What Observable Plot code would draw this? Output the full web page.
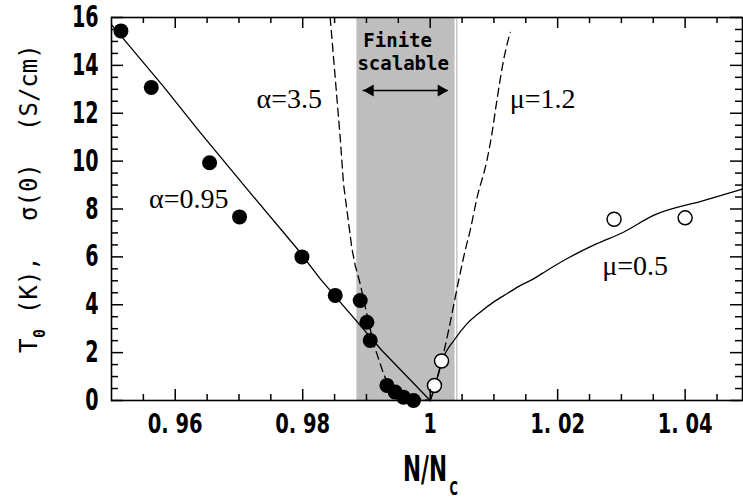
<!DOCTYPE html>
<html>
<head>
<meta charset="utf-8">
<script src="https://cdn.jsdelivr.net/npm/d3@7"></script>
<script src="https://cdn.jsdelivr.net/npm/@observablehq/plot@0.6"></script>
<style>
  html, body { margin: 0; padding: 0; background: #fff; }
  svg { display: block; }
</style>
</head>
<body>
<script>
// ---- data ----
const nFilled = [0.95148, 0.95624, 0.96539, 0.97009, 0.97988, 0.9851, 0.98902, 0.99007, 0.99059, 0.99321, 0.99451, 0.99581, 0.99738];
const t0Filled = [15.44, 13.08, 9.93, 7.67, 6.0, 4.39, 4.18, 3.27, 2.51, 0.63, 0.35, 0.14, 0.0];

const nOpen = [1.00067, 1.00178, 1.02885, 1.04];
const sigmaOpen = [0.63, 1.65, 7.57, 7.63];

const fitA095N = [0.95, 0.9582, 0.9639, 0.972, 0.9791, 0.98275, 0.98588, 0.99242, 1.0];
const fitA095T = [15.7, 13.1, 11.2, 8.6, 6.35, 5.08, 4.11, 2.09, 0];

const fitA35N = [0.98431, 0.98588, 0.9864, 0.98772, 0.98824, 0.98902, 0.99111, 0.99268, 0.99373, 0.9953, 1.0];
const fitA35T = [16.0, 10.99, 9.05, 6.35, 5.64, 4.87, 2.37, 1.12, 0.5, 0.17, 0];

const fitM12N = [1.0, 1.00078, 1.00157, 1.00288, 1.00366, 1.00444, 1.00549, 1.00627, 1.00733, 1.0089, 1.00968, 1.01046, 1.0115, 1.01255];
const fitM12S = [0, 0.6, 1.39, 2.92, 3.95, 4.98, 6.27, 7.1, 8.45, 10.03, 11.14, 12.53, 14.2, 15.38];

const fitM05N = [1.0, 1.00078, 1.00178, 1.00392, 1.00576, 1.00784, 1.00993, 1.01203, 1.01412, 1.01621, 1.01831, 1.02144, 1.02615, 1.03032, 1.03503, 1.04287, 1.04905];
const fitM05S = [0, 0.63, 1.6, 2.58, 3.2, 3.69, 4.11, 4.46, 4.8, 5.08, 5.43, 5.92, 6.55, 7.03, 7.73, 8.35, 8.84];

const shadeRange = [0.9885, 1.0039];
const shadeEdge = [1.00417];

const curveLabels = ["α=3.5", "α=0.95", "μ=1.2", "μ=0.5"];
const curveLabelN = [0.97788, 0.96212, 1.01765, 1.03216];
const curveLabelY = [12.61, 8.40, 12.61, 5.60];

const regionLines = ["Finite", "scalable"];
const regionLineN = [0.9949, 0.99576];
const regionLineY = [15.04, 14.06];
const arrowN = [0.98949, 1.00282];
const arrowY = 12.95;

const xMajor = [0.96, 0.98, 1.00, 1.02, 1.04];
const xTickLabels = ["0. 96", "0. 98", "1", "1. 02", "1. 04"];
const xMinor = [0.955, 0.965, 0.97, 0.975, 0.985, 0.99, 0.995, 1.005, 1.01, 1.015, 1.025, 1.03, 1.035, 1.045];
const yMajor = [0, 2, 4, 6, 8, 10, 12, 14, 16];
const yTickLabels = ["0", "2", "4", "6", "8", "10", "12", "14", "16"];
const yMinor = [0.5, 1, 1.5, 2.5, 3, 3.5, 4.5, 5, 5.5, 6.5, 7, 7.5, 8.5, 9, 9.5, 10.5, 11, 11.5, 12.5, 13, 13.5, 14.5, 15, 15.5];

const xTitle = "N/N";
const xTitleSub = "C";
const yTitleParts = ["T", "0", "(K),", "σ(0)", "(S/cm)"];

// ---- build tables ----
const zipXY = (xs, ys) => xs.map((x, i) => ({x, y: ys[i]}));
const filled = zipXY(nFilled, t0Filled);
const open = zipXY(nOpen, sigmaOpen);
const lineA095 = zipXY(fitA095N, fitA095T);
const lineA35 = zipXY(fitA35N, fitA35T);
const lineM12 = zipXY(fitM12N, fitM12S);
const lineM05 = zipXY(fitM05N, fitM05S);
const labels = curveLabels.map((t, i) => ({t, x: curveLabelN[i], y: curveLabelY[i]}));
const region = regionLines.map((t, i) => ({t, x: regionLineN[i], y: regionLineY[i]}));

// ---- layout ----
const W = 743, H = 500, mL = 111, mR = 1, mT = 17, mB = 100;
const frameW = W - mL - mR, frameH = H - mT - mB;
const tickFamily = "'DejaVu Sans Condensed', 'DejaVu Sans', sans-serif";
const tickStyle = {stroke: "black", strokeWidth: 1.5};

const chart = Plot.plot({
  width: W,
  height: H,
  marginLeft: mL,
  marginRight: mR,
  marginTop: mT,
  marginBottom: mB,
  x: {domain: [0.95, 1.049]},
  y: {domain: [0, 16]},
  style: {background: "white", color: "black"},
  marks: [
    Plot.rect([{x1: shadeRange[0], x2: shadeRange[1]}], {x1: "x1", x2: "x2", fill: "#bebebe"}),
    Plot.ruleX(shadeEdge, {stroke: "#c9c9c9", strokeWidth: 1.5}),
    Plot.line(lineA095, {x: "x", y: "y", stroke: "black", strokeWidth: 1.3}),
    Plot.line(lineM05, {x: "x", y: "y", stroke: "black", strokeWidth: 1.3, curve: "monotone-x"}),
    Plot.line(lineA35, {x: "x", y: "y", stroke: "black", strokeWidth: 1.3, strokeDasharray: "8,5"}),
    Plot.line(lineM12, {x: "x", y: "y", stroke: "black", strokeWidth: 1.3, strokeDasharray: "8,5", curve: "monotone-x"}),
    Plot.dot(filled, {x: "x", y: "y", r: 7.5, fill: "black", stroke: null}),
    Plot.dot(open, {x: "x", y: "y", r: 7, fill: "white", stroke: "black", strokeWidth: 1.5}),
    Plot.text(labels, {x: "x", y: "y", text: "t", fontFamily: "'Liberation Serif', 'Times New Roman', serif", fontSize: 28, fill: "black"}),
    Plot.text(region, {x: "x", y: "y", text: "t", fontFamily: "'DejaVu Sans Mono', monospace", fontWeight: "bold", fontSize: 19, fill: "black"}),
    Plot.ruleY([{y: arrowY, x1: arrowN[0], x2: arrowN[1]}], {y: "y", x1: "x1", x2: "x2", stroke: "black", strokeWidth: 1.5}),
    Plot.dot([{x: arrowN[1], y: arrowY}], {x: "x", y: "y", symbol: "triangle", rotate: 90, r: 4.5, fill: "black", stroke: null, dx: -7}),
    Plot.dot([{x: arrowN[0], y: arrowY}], {x: "x", y: "y", symbol: "triangle", rotate: -90, r: 4.5, fill: "black", stroke: null, dx: 7}),
    // inward ticks: bottom, top, left, right
    Plot.ruleX(xMinor, {...tickStyle, insetTop: frameH - 6}),
    Plot.ruleX(xMajor, {...tickStyle, insetTop: frameH - 11}),
    Plot.ruleX(xMinor, {...tickStyle, insetBottom: frameH - 6}),
    Plot.ruleX(xMajor, {...tickStyle, insetBottom: frameH - 11}),
    Plot.ruleY(yMinor, {...tickStyle, insetRight: frameW - 7}),
    Plot.ruleY(yMajor, {...tickStyle, insetRight: frameW - 12}),
    Plot.ruleY(yMinor, {...tickStyle, insetLeft: frameW - 7}),
    Plot.ruleY(yMajor, {...tickStyle, insetLeft: frameW - 12}),
    // tick labels
    Plot.axisX({anchor: "bottom", ticks: xMajor, tickSize: 0, tickPadding: 14, label: null,
      tickFormat: d => xTickLabels[xMajor.indexOf(d)], fontSize: 26, fontFamily: tickFamily, fontWeight: "bold"}),
    Plot.axisY({anchor: "left", ticks: yMajor, tickSize: 0, tickPadding: 13, label: null,
      tickFormat: d => yTickLabels[yMajor.indexOf(d)], fontSize: 30, fontFamily: tickFamily, fontWeight: "bold"}),
    Plot.frame({stroke: "black", strokeWidth: 1.6})
  ]
});

document.body.appendChild(chart);

// narrow the tick labels to the reference's condensed look
const charW = c => (c === "." || c === " ") ? 7.5 : 13.3;
chart.querySelectorAll('g[aria-label="x-axis tick label"] text, g[aria-label="y-axis tick label"] text').forEach(t => {
  const s = t.textContent;
  let w = 0; for (const c of s) w += charW(c);
  t.setAttribute("textLength", w.toFixed(1));
  t.setAttribute("lengthAdjust", "spacingAndGlyphs");
});

// axis titles
const svg = d3.select(chart);
const xt = svg.append("text")
  .attr("transform", "translate(403,481) scale(0.6,1)")
  .attr("text-anchor", "start")
  .attr("font-family", "'DejaVu Sans', sans-serif").attr("font-weight", "bold").attr("font-size", 36)
  .attr("fill", "black");
xt.append("tspan").text(xTitle);
xt.append("tspan").attr("dx", 4).attr("dy", 14).attr("font-size", 19).text(xTitleSub);

const yt = svg.append("text")
  .attr("transform", "translate(37,0) rotate(-90)")
  .attr("text-anchor", "start")
  .attr("font-family", "'DejaVu Sans Mono', monospace")
  .attr("font-size", 24)
  .attr("fill", "black");
yt.append("tspan").attr("x", -353).attr("y", 0).text(yTitleParts[0]);
yt.append("tspan").attr("x", -338).attr("y", 8).attr("font-size", 15).attr("font-weight", "bold").text(yTitleParts[1]);
yt.append("tspan").attr("x", -314).attr("y", 0).text(yTitleParts[2]);
yt.append("tspan").attr("x", -221).attr("y", 0).text(yTitleParts[3]);
yt.append("tspan").attr("x", -131).attr("y", 0).text(yTitleParts[4]);
</script>
</body>
</html>
